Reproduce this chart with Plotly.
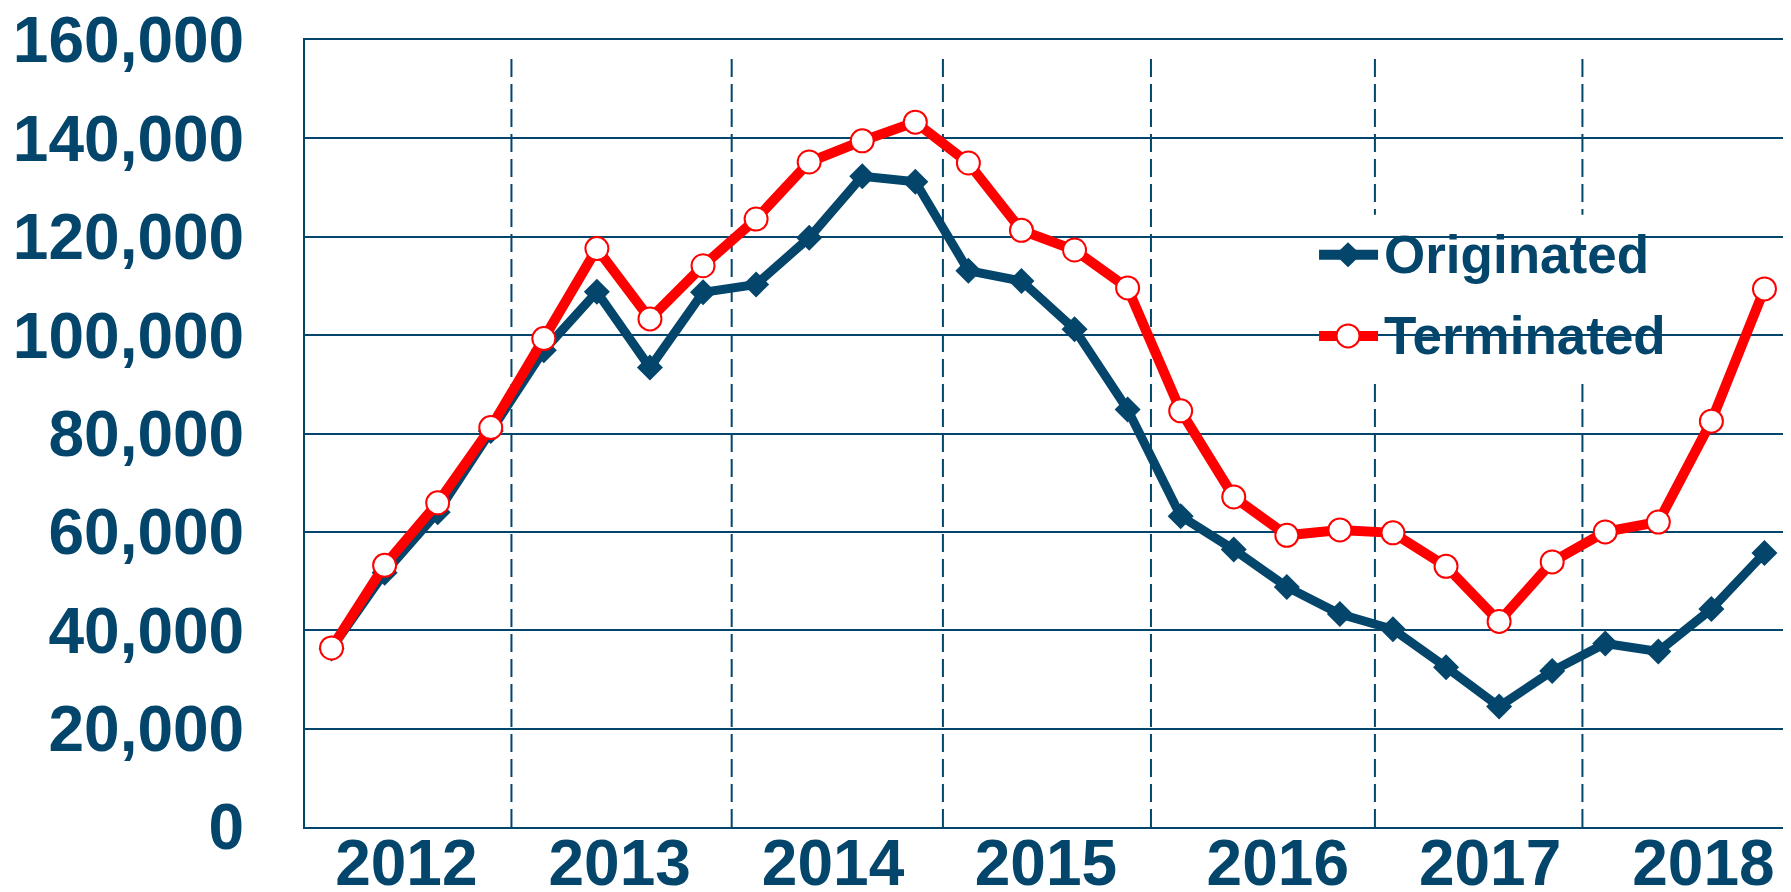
import plotly.graph_objects as go

years = ["2012", "2013", "2014", "2015", "2016", "2017", "2018"]
quarters = [f"{y} Q{q}" for y in years for q in range(1, 5)]

originated = [36.3, 51.7, 64.0, 80.5, 96.9, 108.8, 93.4, 108.7, 110.3, 119.8,
              132.3, 131.2, 113.1, 111.0, 101.2, 84.9, 63.2, 56.4, 48.8, 43.3,
              40.2, 32.5, 24.5, 31.7, 37.3, 35.7, 44.3, 55.7]
terminated = [36.4, 53.2, 65.9, 81.2, 99.3, 117.6, 103.3, 114.1, 123.6, 135.2,
              139.5, 143.3, 135.0, 121.3, 117.3, 109.6, 84.6, 67.1, 59.3, 60.4,
              59.8, 53.0, 41.8, 53.9, 60.0, 62.0, 82.5, 109.4]
originated = [v * 1000 for v in originated]
terminated = [v * 1000 for v in terminated]

series_names = ["Originated", "Terminated"]
y_ticks = [0, 20000, 40000, 60000, 80000, 100000, 120000, 140000, 160000]

NAVY = "#03456B"
RED = "#FF0000"
FONT = "Liberation Sans, Arial, sans-serif"

# layout: hand-placed year separators and year label positions (quarter-index units)
SEPARATORS = [3.39, 7.54, 11.52, 15.44, 19.66, 23.57]
YEAR_LABEL_POS = [1.41, 5.43, 9.45, 13.46, 17.83, 21.83, 25.85]

xi = list(range(len(quarters)))

fig = go.Figure()
fig.add_trace(go.Scatter(
    x=xi, y=originated, name=series_names[0], mode="lines+markers",
    showlegend=False,
    line=dict(color=NAVY, width=9),
    marker=dict(symbol="diamond", size=20, color=NAVY, line=dict(width=0)),
    text=quarters, hoverinfo="text+y",
))
fig.add_trace(go.Scatter(
    x=xi, y=terminated, name=series_names[1], mode="lines+markers",
    showlegend=False,
    line=dict(color=RED, width=10),
    marker=dict(symbol="circle", size=23, color="white", line=dict(color=RED, width=2)),
    text=quarters, hoverinfo="text+y",
))

shapes = []
for sx in SEPARATORS:
    shapes.append(dict(type="line", xref="x", yref="paper",
                       x0=sx, x1=sx, y0=0, y1=0.978,
                       layer="between",
                       line=dict(color=NAVY, width=2, dash="18px,7px")))
# white backing of the legend area
shapes.append(dict(type="rect", xref="paper", yref="paper",
                   x0=0.636, x1=0.958, y0=0.567, y1=0.778,
                   layer="between", fillcolor="white", line=dict(width=0)))

# legend (drawn as shapes + text)
LEG_X0, LEG_X1, LEG_XC, LEG_TX = 0.6824, 0.7221, 0.7019, 0.7248
LEG_Y = [0.7270, 0.6240]
leg_colors = [NAVY, RED]
for yy, col in zip(LEG_Y, leg_colors):
    shapes.append(dict(type="line", xref="paper", yref="paper",
                       x0=LEG_X0, x1=LEG_X1, y0=yy, y1=yy,
                       layer="above", line=dict(color=col, width=10)))
shapes.append(dict(type="path", xref="paper", yref="paper",
                   xsizemode="pixel", ysizemode="pixel",
                   xanchor=LEG_XC, yanchor=LEG_Y[0],
                   path="M -13 0 L 0 12.5 L 13 0 L 0 -12.5 Z",
                   layer="above", fillcolor=NAVY, line=dict(width=0)))
shapes.append(dict(type="circle", xref="paper", yref="paper",
                   xsizemode="pixel", ysizemode="pixel",
                   xanchor=LEG_XC, yanchor=LEG_Y[1],
                   x0=-11.5, x1=11.5, y0=-11.5, y1=11.5,
                   layer="above", fillcolor="white", line=dict(color=RED, width=2)))

annotations = [dict(text=name, xref="paper", yref="paper", x=LEG_TX, y=yy,
                    xanchor="left", yanchor="middle", showarrow=False,
                    font=dict(family=FONT, size=53, color=NAVY, weight="bold"))
               for name, yy in zip(series_names, LEG_Y)]

fig.update_layout(
    width=1791, height=892,
    margin=dict(l=297, r=8, t=32, b=73),
    paper_bgcolor="white", plot_bgcolor="white",
    font=dict(family=FONT, color=NAVY),
    shapes=shapes, annotations=annotations,
    showlegend=False,
    xaxis=dict(range=[-0.5, len(quarters) - 0.5],
               tickvals=YEAR_LABEL_POS,
               ticktext=years, showgrid=False, zeroline=False,
               showline=True, mirror=True, linecolor=NAVY, linewidth=2,
               ticks="", ticklabelstandoff=-21, automargin=False,
               ticklabeloverflow="allow",
               tickfont=dict(family=FONT, size=64, color=NAVY, weight="bold")),
    yaxis=dict(range=[0, 160000], tickvals=y_ticks,
               tickformat=",d", showgrid=True, gridcolor=NAVY, gridwidth=2,
               zeroline=False, showline=True, mirror=True, linecolor=NAVY,
               linewidth=2, ticks="", ticklabelstandoff=46, automargin=False,
               ticklabeloverflow="allow",
               tickfont=dict(family=FONT, size=64, color=NAVY, weight="bold")),
)

fig.write_html("out.html")
